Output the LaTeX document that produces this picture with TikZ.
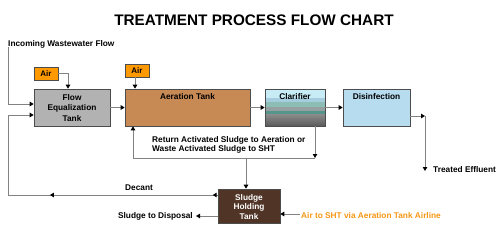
\documentclass[tikz,border=0pt]{standalone}
\usepackage{fontspec}
\setmainfont{Liberation Sans}
\usetikzlibrary{arrows.meta,calc,decorations.markings}
\definecolor{lnc}{RGB}{130,130,130}
\definecolor{airc}{RGB}{255,153,0}
\definecolor{feqc}{RGB}{178,178,178}
\definecolor{aerc}{RGB}{200,138,85}
\definecolor{disc}{RGB}{183,220,240}
\definecolor{shtc}{RGB}{80,52,38}
\definecolor{orc}{RGB}{245,150,20}
\begin{document}
\begin{tikzpicture}[x=1pt,y=-1pt,
  lbl/.style={font=\bfseries\fontsize{8.3}{9.5}\selectfont,inner sep=0pt},
  tank/.style={draw=black!70,line width=0.6pt,minimum height=37pt,inner sep=0pt,align=center},
  airbox/.style={draw=black!70,fill=airc,line width=0.5pt,minimum width=24pt,minimum height=13pt,inner sep=0pt,font=\bfseries\fontsize{8}{9}\selectfont},
  conn/.style={draw=lnc,line width=1pt},
  arr/.style={conn,-{Triangle[length=4pt,width=4.5pt,color=black]}},
  midarr/.style={conn,postaction={decorate},decoration={markings,mark=at position #1 with {\arrow{Triangle[length=4pt,width=4.5pt,color=black]}}}}
]
\useasboundingbox (0,0) rectangle (502,231);
\node[font=\bfseries\fontsize{15.3}{18}\selectfont] (title) at (254,20) {TREATMENT PROCESS FLOW CHART};
\node[lbl,anchor=west] (inctxt) at (8,44) {Incoming Wastewater Flow};

% tanks
\node[tank,fill=feqc,minimum width=76pt] (feq) at (72,107.5) {};
\node[lbl,align=center,font=\bfseries\fontsize{8.3}{10.5}\selectfont] (feqtxt) at (72,108) {Flow\\Equalization\\Tank};
\node[tank,fill=aerc,minimum width=125pt] (aer) at (187.5,107.5) {};
\node[lbl] (aertxt) at (187.5,97) {Aeration Tank};
% clarifier layers
\fill[color={rgb,255:red,200;green,236;blue,246}] (265,89) rectangle (325,98);
\fill[color={rgb,255:red,165;green,205;blue,222}] (265,98) rectangle (325,102);
\fill[color={rgb,255:red,140;green,190;blue,182}] (265,102) rectangle (325,107);
\fill[color={rgb,255:red,150;green,160;blue,160}] (265,107) rectangle (325,111);
\fill[color={rgb,255:red,85;green,150;blue,140}] (265,111) rectangle (325,114);
\shade[top color={rgb,255:red,140;green,140;blue,140},bottom color={rgb,255:red,90;green,90;blue,90}] (265,114) rectangle (325,126);
\node[tank,minimum width=60pt] (clar) at (295,107.5) {};
\node[lbl] (clartxt) at (295,97) {Clarifier};
\node[tank,fill=disc,minimum width=67pt] (dis) at (376.5,107.5) {};
\node[lbl] (distxt) at (376.5,97) {Disinfection};
\node[tank,fill=shtc,minimum width=62pt,minimum height=34pt] (sht) at (249,206) {};
\node[lbl,align=center,text=white,font=\bfseries\fontsize{8.3}{9.6}\selectfont] (shttxt) at (249,207) {Sludge\\Holding\\Tank};

% air boxes
\node[airbox] (air1) at (46,73.5) {Air};
\node[airbox] (air2) at (137,70.5) {Air};

% coordinates
\coordinate (inc) at (8,47);
\coordinate (lft) at (8,195);
\coordinate (effc) at (425,116);
\coordinate (eff) at (425,171);
\coordinate (clb) at (315,126);
\coordinate (rj) at (315,158);
\coordinate (rl) at (133,158);
\coordinate (rs) at (246,158);
\coordinate (disp) at (196,216);
\coordinate (airs) at (300,214);

% connectors
\draw[arr] (inc) |- (feq.west |- 0,104);
\draw[midarr=0.8] (sht.west |- 0,195) -- (lft);
\draw[conn,-{Triangle[length=4pt,width=4.5pt,color=black]}] (sht.west |- 0,195) -- ++(-5,0);
\draw[arr] (lft) |- (feq.west |- 0,115);
\draw[arr] (feq.east) -- (aer.west);
\draw[arr] (aer.east) -- (clar.west);
\draw[arr] (clar.east) -- (dis.west);
\draw[arr] (air1.east) -| (feq.north -| 68,0);
\draw[arr] (air2.south -| 135,0) -- (aer.north -| 135,0);
\draw[arr] (dis.east |- effc) -- (effc);
\draw[arr] (effc) -- (eff);
\draw[arr] (clb) -- (rj);
\draw[conn] (rj) -- (rl);
\draw[arr] (rl) -- (aer.south -| rl);
\draw[arr] (rs) -- (sht.north -| rs);
\draw[arr] (sht.west |- disp) -- (disp);
\draw[arr] (airs) -- (sht.east |- airs);

% labels
\node[lbl,anchor=west] (effl) at (433,170) {Treated Effluent};
\node[lbl,anchor=east] (displ) at (193,216) {Sludge to Disposal};
\node[lbl,anchor=west,text=orc] (airl) at (301,216) {Air to SHT via Aeration Tank Airline};
\node[lbl] (decl) at (139,188) {Decant};
\node[lbl,anchor=north west,align=left] (retl) at (152,136) {Return Activated Sludge to Aeration or\\Waste Activated Sludge to SHT};
\end{tikzpicture}
\end{document}
